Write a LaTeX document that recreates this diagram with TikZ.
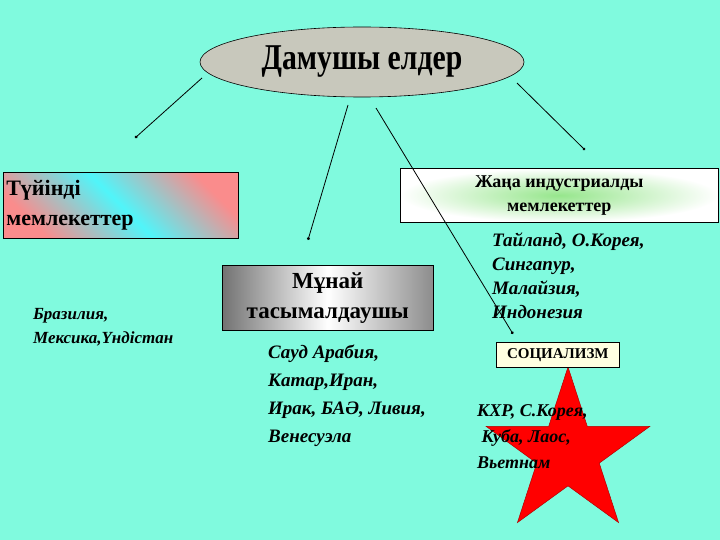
\documentclass[tikz,border=0pt]{standalone}
\usepackage{fontspec}
\setmainfont{Liberation Serif}
\usetikzlibrary{shapes.geometric,arrows.meta,shadings}
\definecolor{bg}{RGB}{128,250,222}
\definecolor{ovalc}{RGB}{200,200,188}
\definecolor{pinkc}{RGB}{250,140,140}
\definecolor{cyanc}{RGB}{80,245,250}
\definecolor{greenc}{RGB}{150,230,140}
\definecolor{ivoryc}{RGB}{255,255,225}
\tikzset{
 conn/.style={draw=black,line width=0.8pt,-{Circle[length=3pt]}},
 head/.style={font=\bfseries\fontsize{23}{30}\selectfont,align=center,draw=black,line width=0.6pt,inner sep=0pt},
 lst/.style={font=\bfseries\itshape\fontsize{16}{24}\selectfont,align=left,anchor=north west,inner sep=0pt}
}
\begin{document}
\begin{tikzpicture}[x=1pt,y=-1pt]
\fill[bg] (0,0) rectangle (720,540);
\useasboundingbox (0,0) rectangle (720,540);
\node[star,star points=5,star point ratio=2.618,minimum size=172pt,inner sep=0pt,fill=red,draw=red!70!black,line width=0.5pt] (star) at (568,453) {};
\node[ellipse,draw=black,line width=0.6pt,fill=ovalc,minimum width=324pt,minimum height=70pt,inner sep=0pt,font=\bfseries\fontsize{33}{38}\selectfont] (root) at (362,62) {\scalebox{0.9}[1.1]{Дамушы елдер}};
\node[head,anchor=north west,minimum width=235pt,minimum height=66pt,shading=axis,top color=pinkc,bottom color=pinkc,middle color=cyanc,shading angle=-45,align=left,text width=229pt,font=\bfseries\fontsize{22}{30}\selectfont] (left) at (3,172) {Түйінді\\мемлекеттер};
\node[head,anchor=north west,minimum width=318pt,minimum height=54pt,inner color=greenc,outer color=white,font=\bfseries\fontsize{18}{24}\selectfont] (right) at (400,168) {Жаңа индустриалды\\мемлекеттер};
\node[head,anchor=north west,minimum width=211pt,minimum height=65pt,left color=black!55,right color=black!45,middle color=white] (mid) at (222,265) {Мұнай\\тасымалдаушы};
\node[lst,font=\bfseries\itshape\fontsize{17}{24}\selectfont] (braz) at (33,308) {Бразилия,\\Мексика,Үндістан};
\node[lst,font=\bfseries\itshape\fontsize{19}{28}\selectfont] (oil) at (268,345) {Сауд Арабия,\\Катар,Иран,\\Ирак, БАӘ, Ливия,\\Венесуэла};
\node[lst,font=\bfseries\itshape\fontsize{19}{24}\selectfont] (asia) at (492,233) {Тайланд, О.Корея,\\Сингапур,\\Малайзия,\\Индонезия};
\node[draw=black,line width=0.6pt,fill=ivoryc,font=\bfseries\fontsize{15}{17}\selectfont,minimum width=123pt,minimum height=25pt,inner sep=0pt,anchor=north west] (soc) at (496,342) {СОЦИАЛИЗМ};
\node[lst,font=\bfseries\itshape\fontsize{18}{26}\selectfont] (com) at (477,404) {КХР, С.Корея,\\\ Куба, Лаос,\\Вьетнам};
\coordinate (s1) at (202,78);
\coordinate (s2) at (348,105);
\coordinate (s3) at (376,108);
\coordinate (s4) at (517,83);
\coordinate (e1) at (135,138);
\coordinate (e2) at (308,240);
\coordinate (e3) at (513,334);
\coordinate (e4) at (585,150);
\draw[conn] (s1) -- (e1);
\draw[conn] (s2) -- (e2);
\draw[conn] (s3) -- (e3);
\draw[conn] (s4) -- (e4);
\end{tikzpicture}
\end{document}
